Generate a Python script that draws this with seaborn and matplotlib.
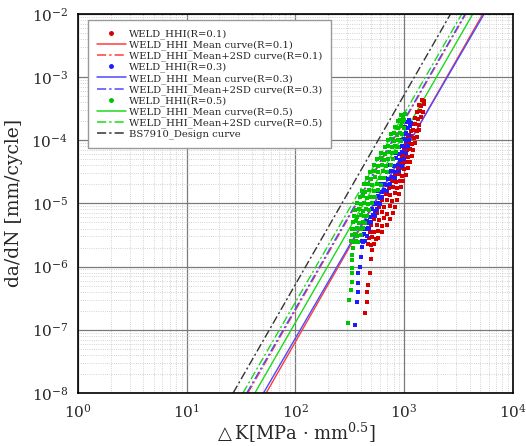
import numpy as np
import pandas as pd
import seaborn as sns
import matplotlib.pyplot as plt
from matplotlib.lines import Line2D
from matplotlib.ticker import LogLocator, NullFormatter

# fatigue crack growth test points: (dK [MPa mm^0.5], da/dN [mm/cycle])
r01_points = [
    (1460, 4.4e-4), (1530, 4.2e-4),
    (1380, 3.6e-4), (1440, 3.5e-4), (1520, 3.7e-4),
    (1318, 2.8e-4), (1390, 2.9e-4), (1480, 2.75e-4),
    (1259, 2.25e-4), (1330, 2.15e-4), (1420, 2.3e-4),
    (1202, 1.78e-4), (1270, 1.82e-4), (1380, 1.75e-4),
    (1148, 1.41e-4), (1220, 1.45e-4), (1310, 1.38e-4), (1370, 1.43e-4),
    (1096, 1.12e-4), (1160, 1.15e-4), (1240, 1.1e-4), (1310, 1.14e-4),
    (1047, 8.9e-5), (1110, 9.2e-5), (1190, 8.7e-5), (1259, 9.0e-5),
    (1000, 7.1e-5), (1060, 6.9e-5), (1140, 7.3e-5), (1210, 7.0e-5),
    (955, 5.6e-5), (1020, 5.8e-5), (1090, 5.5e-5), (1180, 5.7e-5),
    (912, 4.5e-5), (970, 4.4e-5), (1040, 4.6e-5), (1130, 4.45e-5),
    (871, 3.55e-5), (930, 3.65e-5), (1000, 3.5e-5), (1080, 3.6e-5),
    (832, 2.8e-5), (890, 2.9e-5), (960, 2.75e-5), (1040, 2.85e-5),
    (776, 2.25e-5), (840, 2.2e-5), (910, 2.3e-5), (970, 2.22e-5),
    (724, 1.78e-5), (790, 1.82e-5), (860, 1.75e-5), (930, 1.8e-5),
    (676, 1.41e-5), (740, 1.38e-5), (820, 1.45e-5), (900, 1.4e-5),
    (631, 1.12e-5), (700, 1.15e-5), (780, 1.1e-5), (860, 1.13e-5),
    (589, 8.9e-6), (660, 8.7e-6), (740, 9.2e-6), (830, 8.8e-6),
    (562, 7.1e-6), (630, 7.3e-6), (700, 6.9e-6), (790, 7.1e-6),
    (525, 5.6e-6), (590, 5.5e-6), (660, 5.8e-6), (741, 5.6e-6),
    (501, 4.5e-6), (560, 4.6e-6), (620, 4.4e-6), (690, 4.5e-6),
    (490, 3.55e-6), (530, 3.5e-6), (580, 3.65e-6), (631, 3.55e-6),
    (479, 2.8e-6), (510, 2.9e-6), (550, 2.75e-6), (575, 2.85e-6),
    (468, 2.25e-6), (495, 2.2e-6), (525, 2.3e-6),
    (505, 1.8e-6), (500, 1.3e-6), (484, 8.0e-7), (465, 5.1e-7), (454, 3.9e-7),
    (454, 2.75e-7), (436, 1.85e-7),
]

r03_points = [
    (1072, 1.95e-4), (1110, 2.05e-4), (1148, 1.9e-4),
    (1023, 1.6e-4), (1080, 1.55e-4), (1140, 1.65e-4),
    (1000, 1.26e-4), (1050, 1.3e-4), (1120, 1.23e-4),
    (933, 1.0e-4), (990, 1.04e-4), (1050, 0.97e-4), (1110, 1.02e-4),
    (891, 7.9e-5), (950, 8.2e-5), (1010, 7.7e-5), (1080, 8.1e-5),
    (832, 6.3e-5), (890, 6.1e-5), (960, 6.5e-5), (1040, 6.2e-5),
    (794, 5.0e-5), (850, 5.2e-5), (920, 4.9e-5), (1000, 5.1e-5),
    (741, 4.0e-5), (800, 3.9e-5), (870, 4.1e-5), (950, 3.95e-5),
    (708, 3.15e-5), (760, 3.25e-5), (830, 3.1e-5), (900, 3.2e-5),
    (661, 2.5e-5), (710, 2.45e-5), (770, 2.58e-5), (830, 2.48e-5),
    (617, 2.0e-5), (660, 2.06e-5), (700, 1.95e-5), (741, 2.02e-5),
    (575, 1.58e-5), (620, 1.54e-5), (660, 1.62e-5), (692, 1.57e-5),
    (537, 1.26e-5), (570, 1.3e-5), (600, 1.23e-5), (631, 1.28e-5),
    (513, 1.0e-5), (545, 0.97e-5), (575, 1.03e-5), (603, 0.99e-5),
    (479, 7.9e-6), (510, 8.2e-6), (540, 7.7e-6), (562, 8.0e-6),
    (457, 6.3e-6), (485, 6.1e-6), (515, 6.5e-6), (537, 6.2e-6),
    (427, 5.0e-6), (455, 5.2e-6), (480, 4.9e-6), (501, 5.1e-6),
    (417, 4.0e-6), (440, 3.9e-6), (465, 4.1e-6), (479, 3.95e-6),
    (407, 3.15e-6), (430, 3.25e-6), (457, 3.1e-6),
    (407, 2.5e-6), (420, 2.45e-6), (437, 2.55e-6),
    (414, 2.05e-6), (405, 1.4e-6), (393, 1.0e-6), (380, 7.9e-7), (376, 5.5e-7),
    (376, 3.9e-7), (368, 2.7e-7), (352, 1.2e-7),
]

r05_points = [
    (935, 2.55e-4), (975, 2.4e-4), (1010, 2.6e-4),
    (872, 2.0e-4), (920, 2.1e-4), (965, 1.95e-4), (995, 2.05e-4),
    (832, 1.6e-4), (885, 1.55e-4), (940, 1.65e-4), (1000, 1.58e-4),
    (760, 1.25e-4), (810, 1.3e-4), (868, 1.22e-4), (925, 1.28e-4), (962, 1.24e-4),
    (708, 1.0e-4), (760, 1.04e-4), (815, 0.97e-4), (872, 1.02e-4), (928, 0.98e-4),
    (662, 7.9e-5), (710, 8.2e-5), (768, 7.7e-5), (826, 8.1e-5), (888, 7.8e-5),
    (618, 6.3e-5), (665, 6.1e-5), (720, 6.5e-5), (780, 6.2e-5), (848, 6.4e-5),
    (565, 5.0e-5), (612, 5.2e-5), (660, 4.9e-5), (718, 5.1e-5), (790, 4.95e-5),
    (525, 4.0e-5), (570, 3.9e-5), (620, 4.1e-5), (680, 3.95e-5), (750, 4.05e-5),
    (490, 3.15e-5), (530, 3.25e-5), (580, 3.1e-5), (640, 3.2e-5), (700, 3.12e-5),
    (457, 2.5e-5), (500, 2.45e-5), (545, 2.58e-5), (600, 2.48e-5), (660, 2.55e-5),
    (427, 2.0e-5), (465, 2.06e-5), (510, 1.95e-5), (560, 2.02e-5), (615, 1.97e-5),
    (407, 1.58e-5), (440, 1.54e-5), (480, 1.62e-5), (525, 1.57e-5), (575, 1.6e-5),
    (389, 1.26e-5), (420, 1.3e-5), (455, 1.23e-5), (495, 1.28e-5), (535, 1.25e-5),
    (372, 1.0e-5), (400, 0.97e-5), (430, 1.03e-5), (470, 0.99e-5), (510, 1.02e-5),
    (355, 7.9e-6), (385, 8.2e-6), (415, 7.7e-6), (450, 8.0e-6), (480, 7.8e-6),
    (347, 6.3e-6), (372, 6.1e-6), (400, 6.5e-6), (430, 6.2e-6), (457, 6.4e-6),
    (339, 5.0e-6), (360, 5.2e-6), (385, 4.9e-6), (415, 5.1e-6), (437, 4.95e-6),
    (331, 4.0e-6), (350, 3.9e-6), (372, 4.1e-6), (400, 3.95e-6), (417, 4.05e-6),
    (331, 3.15e-6), (350, 3.25e-6), (372, 3.1e-6), (398, 3.2e-6),
    (324, 2.5e-6), (345, 2.45e-6), (365, 2.55e-6), (380, 2.48e-6),
    (338, 2.0e-6), (335, 1.55e-6), (333, 1.25e-6), (332, 9.5e-7), (333, 8.0e-7),
    (331, 5.8e-7), (324, 4.3e-7), (310, 2.95e-7), (304, 1.3e-7),
]

# straight (log-log) curves: dK where each crosses 1e-8 and 1e-2
line_dadn = [1e-8, 1e-2]
mean01_dk = [54.0, 5300.0]
sd01_dk = [36.6, 3700.0]
mean03_dk = [51.0, 5450.0]
sd03_dk = [35.8, 3650.0]
mean05_dk = [42.5, 4290.0]
sd05_dk = [33.0, 3400.0]
bs7910_dk = [26.8, 2680.0]

red_pt, blue_pt, green_pt = "#d40000", "#1c1cff", "#00c400"
red_ln, blue_ln, green_ln = "#ff3c3c", "#4a4aff", "#1ed81e"
dashdot = (0, (6, 2, 1.5, 2))

sns.set_style("white")
plt.rcParams["font.family"] = ["DejaVu Serif"]
plt.rcParams["mathtext.fontset"] = "dejavuserif"

fig = plt.figure(figsize=(5.26, 4.46), dpi=100)
ax = fig.add_axes([0.148, 0.119, 0.827, 0.850])
ax.set_xscale("log")
ax.set_yscale("log")

def draw_line(dk, color, style):
    sns.lineplot(x=dk, y=line_dadn, color=color, linestyle=style, lw=1.0,
                 ax=ax, zorder=2)

draw_line(mean01_dk, red_ln, "-")
draw_line(sd01_dk, red_ln, dashdot)
draw_line(mean03_dk, blue_ln, "-")
draw_line(sd03_dk, blue_ln, dashdot)
draw_line(mean05_dk, green_ln, "-")
draw_line(sd05_dk, green_ln, dashdot)
draw_line(bs7910_dk, "#333333", dashdot)

for pts, col in [(r01_points, red_pt), (r03_points, blue_pt), (r05_points, green_pt)]:
    df = pd.DataFrame(pts, columns=["dK", "dadn"])
    sns.scatterplot(data=df, x="dK", y="dadn", marker="s", s=9, color=col,
                    linewidth=0, ax=ax, zorder=3)

ax.set_xlim(1, 1e4)
ax.set_ylim(1e-8, 1e-2)
ax.xaxis.set_major_locator(LogLocator(base=10, numticks=10))
ax.yaxis.set_major_locator(LogLocator(base=10, numticks=10))
ax.xaxis.set_minor_locator(LogLocator(base=10, subs=np.arange(2, 10), numticks=20))
ax.yaxis.set_minor_locator(LogLocator(base=10, subs=np.arange(2, 10), numticks=20))
ax.xaxis.set_minor_formatter(NullFormatter())
ax.yaxis.set_minor_formatter(NullFormatter())
ax.grid(which="major", color="#7a7a7a", lw=0.9, ls="-")
ax.grid(which="minor", color="#c4c4c4", lw=0.6, ls=":")
ax.set_axisbelow(True)
ax.tick_params(which="major", direction="in", length=4, width=1.5, labelsize=11, pad=7)
ax.tick_params(which="minor", direction="in", length=2, width=0.6)
for sp in ax.spines.values():
    sp.set_color("black")
    sp.set_linewidth(1.2)

ax.set_xlabel("$\\triangle$K[MPa · mm$^{0.5}$]", fontsize=13, labelpad=0)
ax.set_ylabel("da/dN [mm/cycle]", fontsize=13.5, labelpad=6)

handles = [
    Line2D([], [], ls="", marker="o", ms=2.5, color=red_pt),
    Line2D([], [], color=red_ln, lw=1.1),
    Line2D([], [], color=red_ln, lw=1.1, ls=dashdot),
    Line2D([], [], ls="", marker="o", ms=2.5, color=blue_pt),
    Line2D([], [], color=blue_ln, lw=1.1),
    Line2D([], [], color=blue_ln, lw=1.1, ls=dashdot),
    Line2D([], [], ls="", marker="o", ms=2.5, color=green_pt),
    Line2D([], [], color=green_ln, lw=1.1),
    Line2D([], [], color=green_ln, lw=1.1, ls=dashdot),
    Line2D([], [], color="#333333", lw=1.1, ls=dashdot),
]
labels = [
    "WELD_HHI(R=0.1)", "WELD_HHI_Mean curve(R=0.1)", "WELD_HHI_Mean+2SD curve(R=0.1)",
    "WELD_HHI(R=0.3)", "WELD_HHI_Mean curve(R=0.3)", "WELD_HHI_Mean+2SD curve(R=0.3)",
    "WELD_HHI(R=0.5)", "WELD_HHI_Mean curve(R=0.5)", "WELD_HHI_Mean+2SD curve(R=0.5)",
    "BS7910_Design curve",
]
leg = ax.legend(handles, labels, loc="upper left", bbox_to_anchor=(0.023, 0.984),
                fontsize=7.2, frameon=True, fancybox=False, framealpha=1,
                edgecolor="#9a9a9a", handlelength=2.9, handletextpad=0.3,
                labelspacing=0.14, borderpad=0.9, borderaxespad=0)
leg.get_frame().set_linewidth(1.0)

fig.savefig("out.png", dpi=100)
